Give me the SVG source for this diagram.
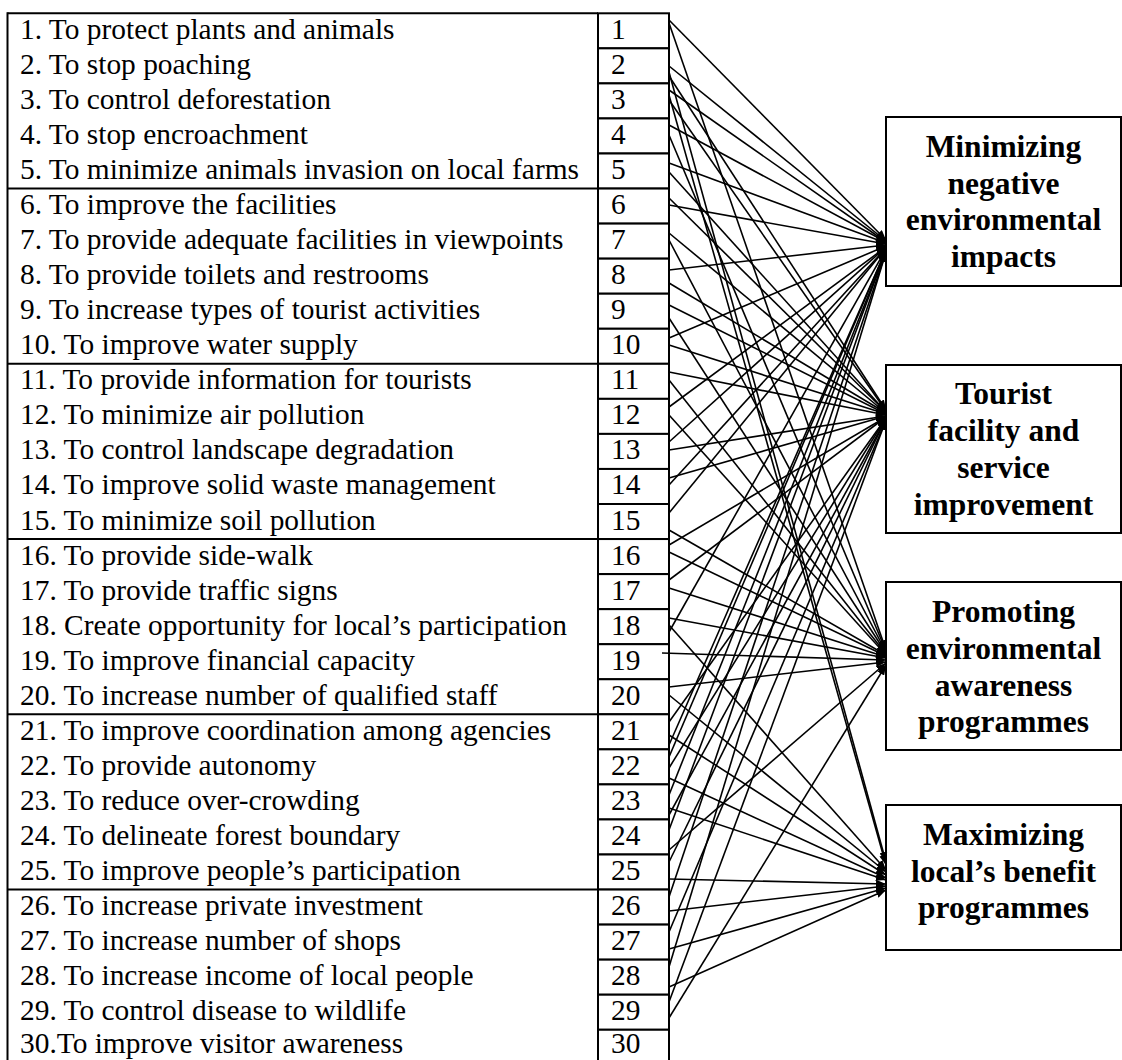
<svg xmlns="http://www.w3.org/2000/svg" width="1122" height="1060" viewBox="0 0 1122 1060">
  <style>
    .frame { stroke: #000; stroke-width: 2; fill: none; }
    .num-box { stroke: #000; stroke-width: 2; fill: #fff; }
    .item { font-family: "Liberation Serif", "Times New Roman", serif; font-size: 29.4px; fill: #000; }
    .goal-box { stroke: #000; stroke-width: 2; fill: #fff; }
    .goal { font-family: "Liberation Serif", "Times New Roman", serif; font-size: 31.5px; font-weight: bold; fill: #000; text-anchor: middle; }
    .conn line { stroke: #000; stroke-width: 1.6; marker-end: url(#arrow); }
  </style>
  <defs>
    <marker id="arrow" viewBox="0 0 10 8" refX="10" refY="4" markerWidth="10" markerHeight="8" markerUnits="userSpaceOnUse" orient="auto">
      <path d="M0,0 L10,4 L0,8 z" fill="#000"/>
    </marker>
  </defs>
  <rect width="1122" height="1060" fill="#fff"/>

  <!-- Objective table frame: outer edge and group separators -->
  <g id="table-frame" class="frame">
    <line x1="7.5" y1="13.3" x2="598" y2="13.3"/>
    <line x1="7.5" y1="12.3" x2="7.5" y2="1062"/>
    <line x1="7.5" y1="188.55" x2="598" y2="188.55"/>
    <line x1="7.5" y1="363.8" x2="598" y2="363.8"/>
    <line x1="7.5" y1="539.05" x2="598" y2="539.05"/>
    <line x1="7.5" y1="714.3" x2="598" y2="714.3"/>
    <line x1="7.5" y1="889.55" x2="598" y2="889.55"/>
  </g>

  <!-- Objectives 1-30: label and numbered cell -->
  <g id="obj-1"><rect class="num-box" x="598" y="13.3" width="71" height="35.05"/><text class="item" x="20" y="39">1. To protect plants and animals</text><text class="item" x="611" y="39">1</text></g>
  <g id="obj-2"><rect class="num-box" x="598" y="48.35" width="71" height="35.05"/><text class="item" x="20" y="74">2. To stop poaching</text><text class="item" x="611" y="74">2</text></g>
  <g id="obj-3"><rect class="num-box" x="598" y="83.4" width="71" height="35.05"/><text class="item" x="20" y="109">3. To control deforestation</text><text class="item" x="611" y="109">3</text></g>
  <g id="obj-4"><rect class="num-box" x="598" y="118.45" width="71" height="35.05"/><text class="item" x="20" y="144">4. To stop encroachment</text><text class="item" x="611" y="144">4</text></g>
  <g id="obj-5"><rect class="num-box" x="598" y="153.5" width="71" height="35.05"/><text class="item" x="20" y="179">5. To minimize animals invasion on local farms</text><text class="item" x="611" y="179">5</text></g>
  <g id="obj-6"><rect class="num-box" x="598" y="188.55" width="71" height="35.05"/><text class="item" x="20" y="214">6. To improve the facilities</text><text class="item" x="611" y="214">6</text></g>
  <g id="obj-7"><rect class="num-box" x="598" y="223.6" width="71" height="35.05"/><text class="item" x="20" y="249">7. To provide adequate facilities in viewpoints</text><text class="item" x="611" y="249">7</text></g>
  <g id="obj-8"><rect class="num-box" x="598" y="258.65" width="71" height="35.05"/><text class="item" x="20" y="284">8. To provide toilets and restrooms</text><text class="item" x="611" y="284">8</text></g>
  <g id="obj-9"><rect class="num-box" x="598" y="293.7" width="71" height="35.05"/><text class="item" x="20" y="319">9. To increase types of tourist activities</text><text class="item" x="611" y="319">9</text></g>
  <g id="obj-10"><rect class="num-box" x="598" y="328.75" width="71" height="35.05"/><text class="item" x="20" y="354">10. To improve water supply</text><text class="item" x="611" y="354">10</text></g>
  <g id="obj-11"><rect class="num-box" x="598" y="363.8" width="71" height="35.05"/><text class="item" x="20" y="389">11. To provide information for tourists</text><text class="item" x="611" y="389">11</text></g>
  <g id="obj-12"><rect class="num-box" x="598" y="398.85" width="71" height="35.05"/><text class="item" x="20" y="424">12. To minimize air pollution</text><text class="item" x="611" y="424">12</text></g>
  <g id="obj-13"><rect class="num-box" x="598" y="433.9" width="71" height="35.05"/><text class="item" x="20" y="459">13. To control landscape degradation</text><text class="item" x="611" y="459">13</text></g>
  <g id="obj-14"><rect class="num-box" x="598" y="468.95" width="71" height="35.05"/><text class="item" x="20" y="494">14. To improve solid waste management</text><text class="item" x="611" y="494">14</text></g>
  <g id="obj-15"><rect class="num-box" x="598" y="504" width="71" height="35.05"/><text class="item" x="20" y="529.5">15. To minimize soil pollution</text><text class="item" x="611" y="529.5">15</text></g>
  <g id="obj-16"><rect class="num-box" x="598" y="539.05" width="71" height="35.05"/><text class="item" x="20" y="564.5">16. To provide side-walk</text><text class="item" x="611" y="564.5">16</text></g>
  <g id="obj-17"><rect class="num-box" x="598" y="574.1" width="71" height="35.05"/><text class="item" x="20" y="599.5">17. To provide traffic signs</text><text class="item" x="611" y="599.5">17</text></g>
  <g id="obj-18"><rect class="num-box" x="598" y="609.15" width="71" height="35.05"/><text class="item" x="20" y="634.5">18. Create opportunity for local’s participation</text><text class="item" x="611" y="634.5">18</text></g>
  <g id="obj-19"><rect class="num-box" x="598" y="644.2" width="71" height="35.05"/><text class="item" x="20" y="669.5">19. To improve financial capacity</text><text class="item" x="611" y="669.5">19</text></g>
  <g id="obj-20"><rect class="num-box" x="598" y="679.25" width="71" height="35.05"/><text class="item" x="20" y="704.5">20. To increase number of qualified staff</text><text class="item" x="611" y="704.5">20</text></g>
  <g id="obj-21"><rect class="num-box" x="598" y="714.3" width="71" height="35.05"/><text class="item" x="20" y="739.5">21. To improve coordination among agencies</text><text class="item" x="611" y="739.5">21</text></g>
  <g id="obj-22"><rect class="num-box" x="598" y="749.35" width="71" height="35.05"/><text class="item" x="20" y="774.5">22. To provide autonomy</text><text class="item" x="611" y="774.5">22</text></g>
  <g id="obj-23"><rect class="num-box" x="598" y="784.4" width="71" height="35.05"/><text class="item" x="20" y="809.5">23. To reduce over-crowding</text><text class="item" x="611" y="809.5">23</text></g>
  <g id="obj-24"><rect class="num-box" x="598" y="819.45" width="71" height="35.05"/><text class="item" x="20" y="844.5">24. To delineate forest boundary</text><text class="item" x="611" y="844.5">24</text></g>
  <g id="obj-25"><rect class="num-box" x="598" y="854.5" width="71" height="35.05"/><text class="item" x="20" y="879.5">25. To improve people’s participation</text><text class="item" x="611" y="879.5">25</text></g>
  <g id="obj-26"><rect class="num-box" x="598" y="889.55" width="71" height="35.05"/><text class="item" x="20" y="914.5">26. To increase private investment</text><text class="item" x="611" y="914.5">26</text></g>
  <g id="obj-27"><rect class="num-box" x="598" y="924.6" width="71" height="35.05"/><text class="item" x="20" y="949.5">27. To increase number of shops</text><text class="item" x="611" y="949.5">27</text></g>
  <g id="obj-28"><rect class="num-box" x="598" y="959.65" width="71" height="35.05"/><text class="item" x="20" y="984.5">28. To increase income of local people</text><text class="item" x="611" y="984.5">28</text></g>
  <g id="obj-29"><rect class="num-box" x="598" y="994.7" width="71" height="35.05"/><text class="item" x="20" y="1019.5">29. To control disease to wildlife</text><text class="item" x="611" y="1019.5">29</text></g>
  <g id="obj-30"><rect class="num-box" x="598" y="1029.75" width="71" height="35.05"/><text class="item" x="20" y="1053">30.To improve visitor awareness</text><text class="item" x="611" y="1053">30</text></g>

  <!-- Strategy boxes -->
  <g id="goal-environment">
    <rect class="goal-box" x="886" y="117" width="235" height="169"/>
    <text class="goal" x="1003.5" y="157">Minimizing</text>
    <text class="goal" x="1003.5" y="193.5">negative</text>
    <text class="goal" x="1003.5" y="230">environmental</text>
    <text class="goal" x="1003.5" y="266.5">impacts</text>
  </g>
  <g id="goal-facility">
    <rect class="goal-box" x="886" y="365" width="235" height="168"/>
    <text class="goal" x="1003.5" y="404">Tourist</text>
    <text class="goal" x="1003.5" y="441">facility and</text>
    <text class="goal" x="1003.5" y="478">service</text>
    <text class="goal" x="1003.5" y="515">improvement</text>
  </g>
  <g id="goal-awareness">
    <rect class="goal-box" x="886" y="582" width="235" height="168"/>
    <text class="goal" x="1003.5" y="622">Promoting</text>
    <text class="goal" x="1003.5" y="659">environmental</text>
    <text class="goal" x="1003.5" y="695.5">awareness</text>
    <text class="goal" x="1003.5" y="732">programmes</text>
  </g>
  <g id="goal-benefit">
    <rect class="goal-box" x="886" y="805" width="235" height="145"/>
    <text class="goal" x="1003.5" y="845">Maximizing</text>
    <text class="goal" x="1003.5" y="881.5">local’s benefit</text>
    <text class="goal" x="1003.5" y="918">programmes</text>
  </g>

  <!-- Links from objectives to strategies -->
  <g id="connectors" class="conn">
    <line x1="669" y1="20" x2="886" y2="240"/>
    <line x1="669" y1="23" x2="886" y2="650"/>
    <line x1="669" y1="66" x2="886" y2="241"/>
    <line x1="669" y1="72" x2="886" y2="862"/>
    <line x1="669" y1="76" x2="886" y2="410"/>
    <line x1="669" y1="90" x2="886" y2="242"/>
    <line x1="669" y1="95" x2="886" y2="865"/>
    <line x1="669" y1="100" x2="886" y2="411"/>
    <line x1="669" y1="125" x2="886" y2="242"/>
    <line x1="669" y1="135" x2="886" y2="651"/>
    <line x1="669" y1="163" x2="886" y2="243"/>
    <line x1="669" y1="172" x2="886" y2="412"/>
    <line x1="669" y1="198" x2="886" y2="412"/>
    <line x1="669" y1="205" x2="886" y2="244"/>
    <line x1="669" y1="233" x2="886" y2="413"/>
    <line x1="669" y1="240" x2="886" y2="652"/>
    <line x1="669" y1="270" x2="886" y2="245"/>
    <line x1="669" y1="283" x2="886" y2="413"/>
    <line x1="669" y1="305" x2="886" y2="414"/>
    <line x1="669" y1="318" x2="886" y2="653"/>
    <line x1="669" y1="338" x2="886" y2="246"/>
    <line x1="669" y1="345" x2="886" y2="414"/>
    <line x1="669" y1="372" x2="886" y2="415"/>
    <line x1="669" y1="380" x2="886" y2="654"/>
    <line x1="669" y1="407" x2="886" y2="247"/>
    <line x1="669" y1="415" x2="886" y2="655"/>
    <line x1="669" y1="442" x2="886" y2="247"/>
    <line x1="669" y1="450" x2="886" y2="416"/>
    <line x1="669" y1="478" x2="886" y2="416"/>
    <line x1="669" y1="485" x2="886" y2="248"/>
    <line x1="669" y1="513" x2="886" y2="248"/>
    <line x1="669" y1="530" x2="886" y2="655"/>
    <line x1="669" y1="545" x2="886" y2="417"/>
    <line x1="669" y1="552" x2="886" y2="656"/>
    <line x1="669" y1="580" x2="886" y2="417"/>
    <line x1="669" y1="588" x2="886" y2="657"/>
    <line x1="669" y1="618" x2="886" y2="658"/>
    <line x1="669" y1="625" x2="886" y2="870"/>
    <line x1="669" y1="632" x2="886" y2="249"/>
    <line x1="662" y1="653" x2="886" y2="660"/>
    <line x1="669" y1="687" x2="886" y2="662"/>
    <line x1="669" y1="695" x2="886" y2="872"/>
    <line x1="669" y1="722" x2="886" y2="418"/>
    <line x1="669" y1="735" x2="886" y2="875"/>
    <line x1="669" y1="745" x2="886" y2="250"/>
    <line x1="669" y1="757" x2="886" y2="250"/>
    <line x1="669" y1="768" x2="886" y2="418"/>
    <line x1="669" y1="778" x2="886" y2="878"/>
    <line x1="669" y1="795" x2="886" y2="251"/>
    <line x1="669" y1="808" x2="886" y2="880"/>
    <line x1="669" y1="815" x2="886" y2="419"/>
    <line x1="669" y1="830" x2="886" y2="251"/>
    <line x1="669" y1="850" x2="886" y2="663"/>
    <line x1="669" y1="862" x2="886" y2="419"/>
    <line x1="669" y1="879" x2="886" y2="884"/>
    <line x1="669" y1="897" x2="886" y2="252"/>
    <line x1="669" y1="911" x2="886" y2="886"/>
    <line x1="669" y1="932" x2="886" y2="420"/>
    <line x1="669" y1="949" x2="886" y2="888"/>
    <line x1="669" y1="967" x2="886" y2="252"/>
    <line x1="669" y1="987" x2="886" y2="890"/>
    <line x1="669" y1="1002" x2="886" y2="420"/>
    <line x1="669" y1="1018" x2="886" y2="665"/>
  </g>
</svg>
